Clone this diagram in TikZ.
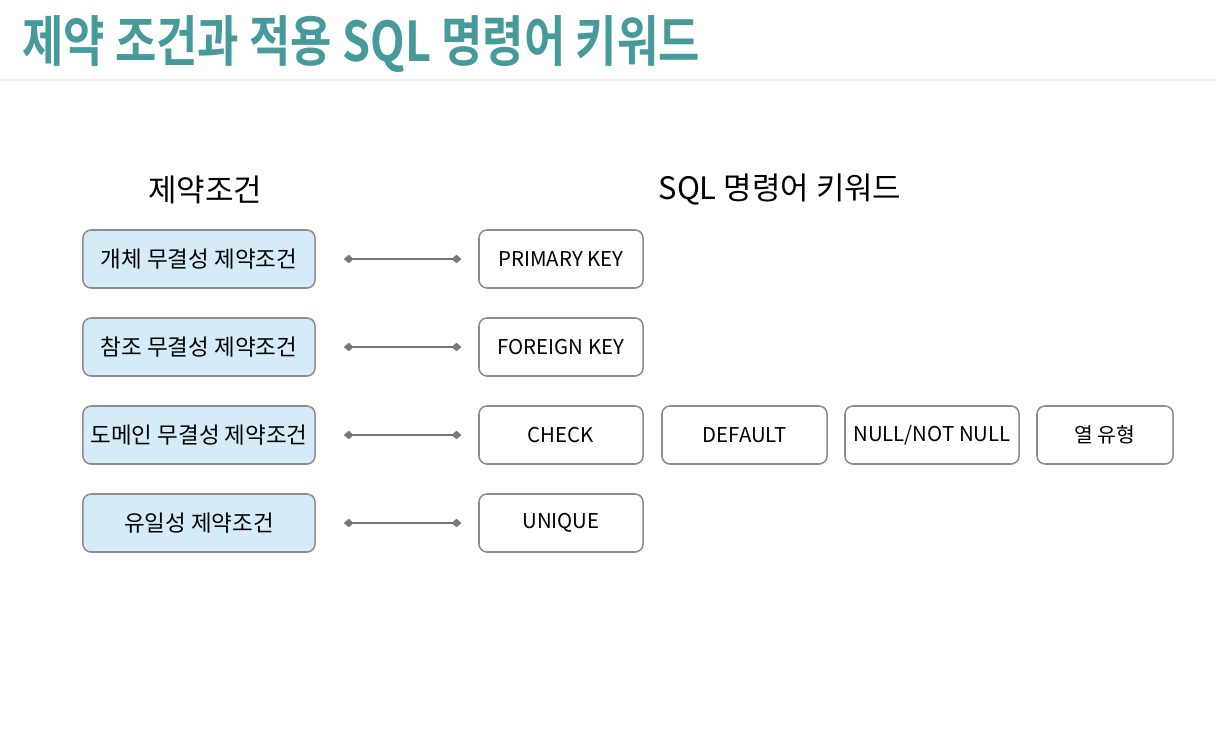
\documentclass[tikz,border=0pt]{standalone}
\usepackage{fontspec}
\setmainfont{Noto Sans CJK KR}
\newfontfamily\titlefont{Noto Sans CJK KR Bold}
\usetikzlibrary{arrows.meta}
\definecolor{titleteal}{HTML}{469A99}
\definecolor{ruleblue}{HTML}{D5ECF8}
\definecolor{edgegray}{HTML}{8C8C8C}
\definecolor{linkgray}{HTML}{777777}
\tikzset{
    constraint/.style={draw=edgegray, line width=1.1pt, fill=ruleblue, rounded corners=0.2cm, minimum width=5.8cm, minimum height=1.45cm, font=\fontsize{16}{18}\selectfont},
    keyword/.style={draw=edgegray, line width=1.1pt, fill=white, rounded corners=0.2cm, minimum width=4.1cm, minimum height=1.45cm, font=\fontsize{14.5}{16}\selectfont},
    link/.style={draw=linkgray, line width=0.9pt, {Diamond[length=7pt,width=6pt]}-{Diamond[length=7pt,width=6pt]}, shorten <=0.7cm, shorten >=0.42cm},
    header/.style={font=\fontsize{22}{24}\selectfont}
}
\begin{document}
\begin{tikzpicture}[x=0.025cm, y=-0.025cm]
    \useasboundingbox (0, 0) rectangle (1216, 735);
    % title and rule below it.
    \node[anchor=west, text=titleteal, inner sep=0] (title) at (22, 44)
        {\titlefont\fontsize{39}{41}\selectfont\scalebox{0.82}[1]{제약 조건과 적용 SQL 명령어 키워드}};
    \draw[draw=black!6, line width=0.8pt] (0, 80) coordinate (rule left) -- (1216, 80) coordinate (rule right);
    % column headers.
    \node[header] (left head) at (205, 190) {제약조건};
    \node[header] (right head) at (780, 190) {SQL 명령어 키워드};
    % constraint boxes.
    \node[constraint] (entity) at (199, 259) {개체 무결성 제약조건};
    \node[constraint] (referential) at (199, 347) {참조 무결성 제약조건};
    \node[constraint] (domain) at (199, 435) {도메인 무결성 제약조건};
    \node[constraint] (unique) at (199, 523) {유일성 제약조건};
    % keyword boxes.
    \node[keyword] (primary) at (561, 259) {PRIMARY KEY};
    \node[keyword] (foreign) at (561, 347) {FOREIGN KEY};
    \node[keyword] (check) at (561, 435) {CHECK};
    \node[keyword] (uniq kw) at (561, 523) {UNIQUE};
    \node[keyword, minimum width=4.125cm] (default) at (744.5, 435) {DEFAULT};
    \node[keyword, minimum width=4.35cm] (notnull) at (932, 435) {NULL/NOT NULL};
    \node[keyword, minimum width=3.4cm] (coltype) at (1105, 435) {열 유형};
    % connectors.
    \draw[link] (entity) -- (primary);
    \draw[link] (referential) -- (foreign);
    \draw[link] (domain) -- (check);
    \draw[link] (unique) -- (uniq kw);
\end{tikzpicture}
\end{document}
